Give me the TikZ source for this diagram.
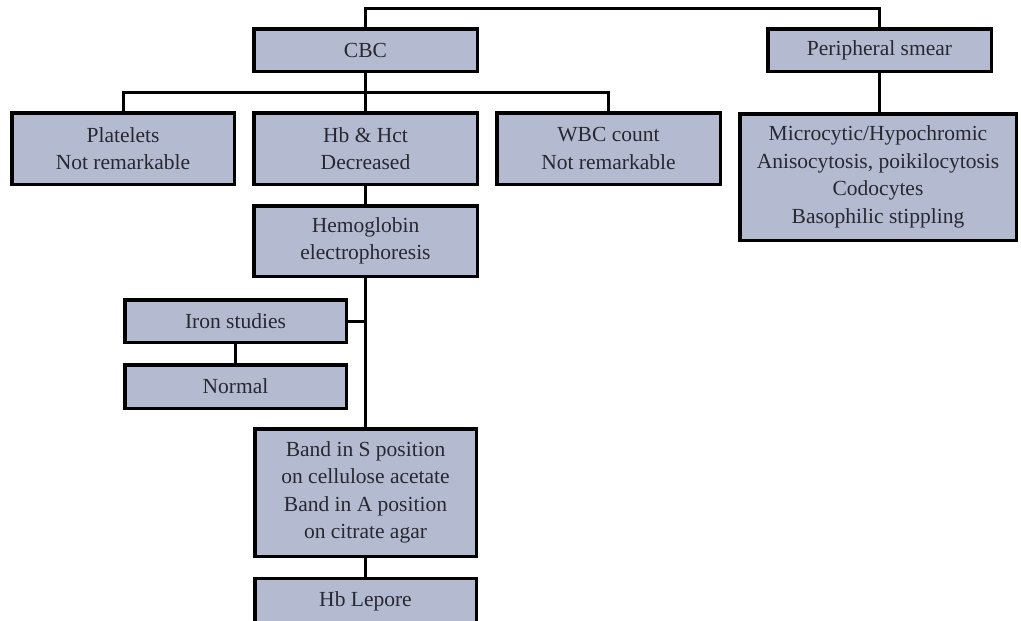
\documentclass[tikz,border=0pt]{standalone}
\usepackage{fontspec}
\setmainfont{Liberation Serif}
\definecolor{boxfill}{RGB}{180,187,208}
\definecolor{txt}{RGB}{40,40,50}
\begin{document}
\begin{tikzpicture}[x=1pt,y=-1pt,
  box/.style={draw=black, fill=boxfill, line width=3.5pt, inner sep=0pt, outer sep=0pt,
    text=txt, align=center, font=\fontsize{21.5}{27.5}\selectfont},
  conn/.style={line width=3pt}]
\useasboundingbox (0,0) rectangle (1021,621);
\fill[white] (0,0) rectangle (1021,621);
\node[box, minimum width=223.5, minimum height=42.5] (cbc) at (365.5,50) {CBC};
\node[box, minimum width=223.5, minimum height=42.5] (ps) at (879.5,50) {Peripheral smear};
\node[box, minimum width=222.5, minimum height=71.5] (plt) at (123,148.5) {Platelets\\Not remarkable};
\node[box, minimum width=223.5, minimum height=71.5] (hb) at (365.5,148.5) {Hb \& Hct\\Decreased};
\node[box, minimum width=223.5, minimum height=71.5] (wbc) at (608.5,148.5) {WBC count\\Not remarkable};
\node[box, minimum width=276.5, minimum height=126.5] (mic) at (878,177) {Microcytic/Hypochromic\\Anisocytosis, poikilocytosis\\Codocytes\\Basophilic stippling};
\node[box, minimum width=223.5, minimum height=70.5] (hem) at (365.5,241) {Hemoglobin\\electrophoresis};
\node[box, minimum width=221.5, minimum height=42.5] (iron) at (235.5,321) {Iron studies};
\node[box, minimum width=221.5, minimum height=43.5] (norm) at (235.5,386.5) {Normal};
\node[box, minimum width=221.5, minimum height=127.5] (band) at (365.5,492.5) {Band in S position\\on cellulose acetate\\Band in A position\\on citrate agar};
\node[box, minimum width=221.5, minimum height=45] (lep) at (365.5,601) {Hb Lepore};
\coordinate (topl) at (365.5,8.5);
\coordinate (topr) at (879.5,8.5);
\coordinate (cbcj) at (365.5,92);
\coordinate (pltj) at (123,92);
\coordinate (wbcj) at (608.5,92);
\coordinate (ironj) at (365.5,321);
\draw[conn] (cbc.north) -- (topl) -- (topr) -- (ps.north);
\draw[conn] (cbc.south) -- (cbcj);
\draw[conn] (plt.north) -- (pltj) -- (wbcj) -- (wbc.north);
\draw[conn] (cbcj) -- (hb.north);
\draw[conn] (ps.south) -- (ps.south |- mic.north);
\draw[conn] (hb.south) -- (hem.north);
\draw[conn] (hem.south) -- (band.north);
\draw[conn] (iron.east) -- (ironj);
\draw[conn] (iron.south) -- (norm.north);
\draw[conn] (band.south) -- (lep.north);
\end{tikzpicture}
\end{document}
